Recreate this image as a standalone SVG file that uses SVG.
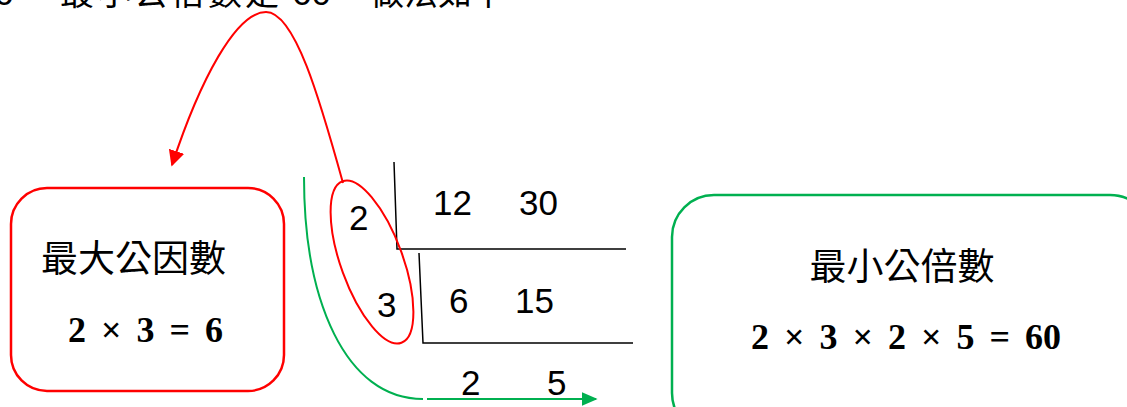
<svg xmlns="http://www.w3.org/2000/svg" width="1127" height="407" viewBox="0 0 1127 407">
<style>
.cjk{font-family:"Noto Sans CJK TC","Noto Sans CJK SC",sans-serif;fill:#000}
.num{font-family:"Liberation Sans","Open Sans",sans-serif;font-size:35px;fill:#000}
.math{font-family:"Liberation Serif","DejaVu Serif",serif;font-weight:bold;font-size:36px;word-spacing:6px;fill:#000}
.line{stroke:#000;stroke-width:1.5;fill:none}
.red{stroke:#FF0000;stroke-width:2;fill:none}
.green{stroke:#00B050;stroke-width:2;fill:none}
</style>
<defs>
<marker id="arrRed" viewBox="0 0 10 10" refX="9" refY="5" markerWidth="8" markerHeight="8" orient="auto" markerUnits="strokeWidth"><path d="M0,0 L10,5 L0,10 z" fill="#FF0000"/></marker>
<marker id="arrGreen" viewBox="0 0 10 10" refX="9" refY="5" markerWidth="8" markerHeight="7" orient="auto" markerUnits="strokeWidth" preserveAspectRatio="none"><path d="M0,0 L10,5 L0,10 z" fill="#00B050"/></marker>
</defs>
<rect width="1127" height="407" fill="#fff"/>
<g id="top-text" class="cjk" font-size="34">
<text x="-6" y="5" class="num" font-size="34">6</text>
<text x="60" y="5" letter-spacing="3">最小公倍數是</text>
<text x="292" y="5" class="num" font-size="34">60</text>
<text x="370" y="5">做法如下</text>
</g>
<g id="division">
<path class="line" d="M394,162 L397,249 L626,249"/>
<path class="line" d="M419,253 L423,343 L633,343"/>
<text class="num" x="433" y="215">12</text>
<text class="num" x="519" y="215">30</text>
<text class="num" x="349" y="230">2</text>
<text class="num" x="377" y="317">3</text>
<text class="num" x="449" y="313">6</text>
<text class="num" x="515" y="313">15</text>
<text class="num" x="461" y="395">2</text>
<text class="num" x="547" y="395">5</text>
</g>
<g id="ellipse">
<ellipse class="red" cx="372" cy="262" rx="31" ry="86" transform="rotate(-20 372 262)"/>
</g>
<g id="gcf-box">
<rect x="11" y="188" width="273" height="203" rx="36" fill="#fff" stroke="#FF0000" stroke-width="2.5"/>
<text class="cjk" x="41" y="272" font-size="37">最大公因數</text>
<text class="math" x="68" y="342">2 × 3 = 6</text>
</g>
<g id="lcm-box">
<rect x="672" y="195" width="480" height="240" rx="42" fill="#fff" stroke="#00B050" stroke-width="2.5"/>
<text class="cjk" x="902" y="280" font-size="37" text-anchor="middle">最小公倍數</text>
<text class="math" x="906" y="349" text-anchor="middle">2 × 3 × 2 × 5 = 60</text>
</g>
<g id="connectors">
<path class="red" d="M343,183 C320,100 295,12 266,12 C236,12 200,80 172,165" marker-end="url(#arrRed)"/>
<path class="green" d="M304,177 C304,300 345,399 423,399"/>
<path class="green" d="M427,399 L596,399" marker-end="url(#arrGreen)"/>
</g>
</svg>
